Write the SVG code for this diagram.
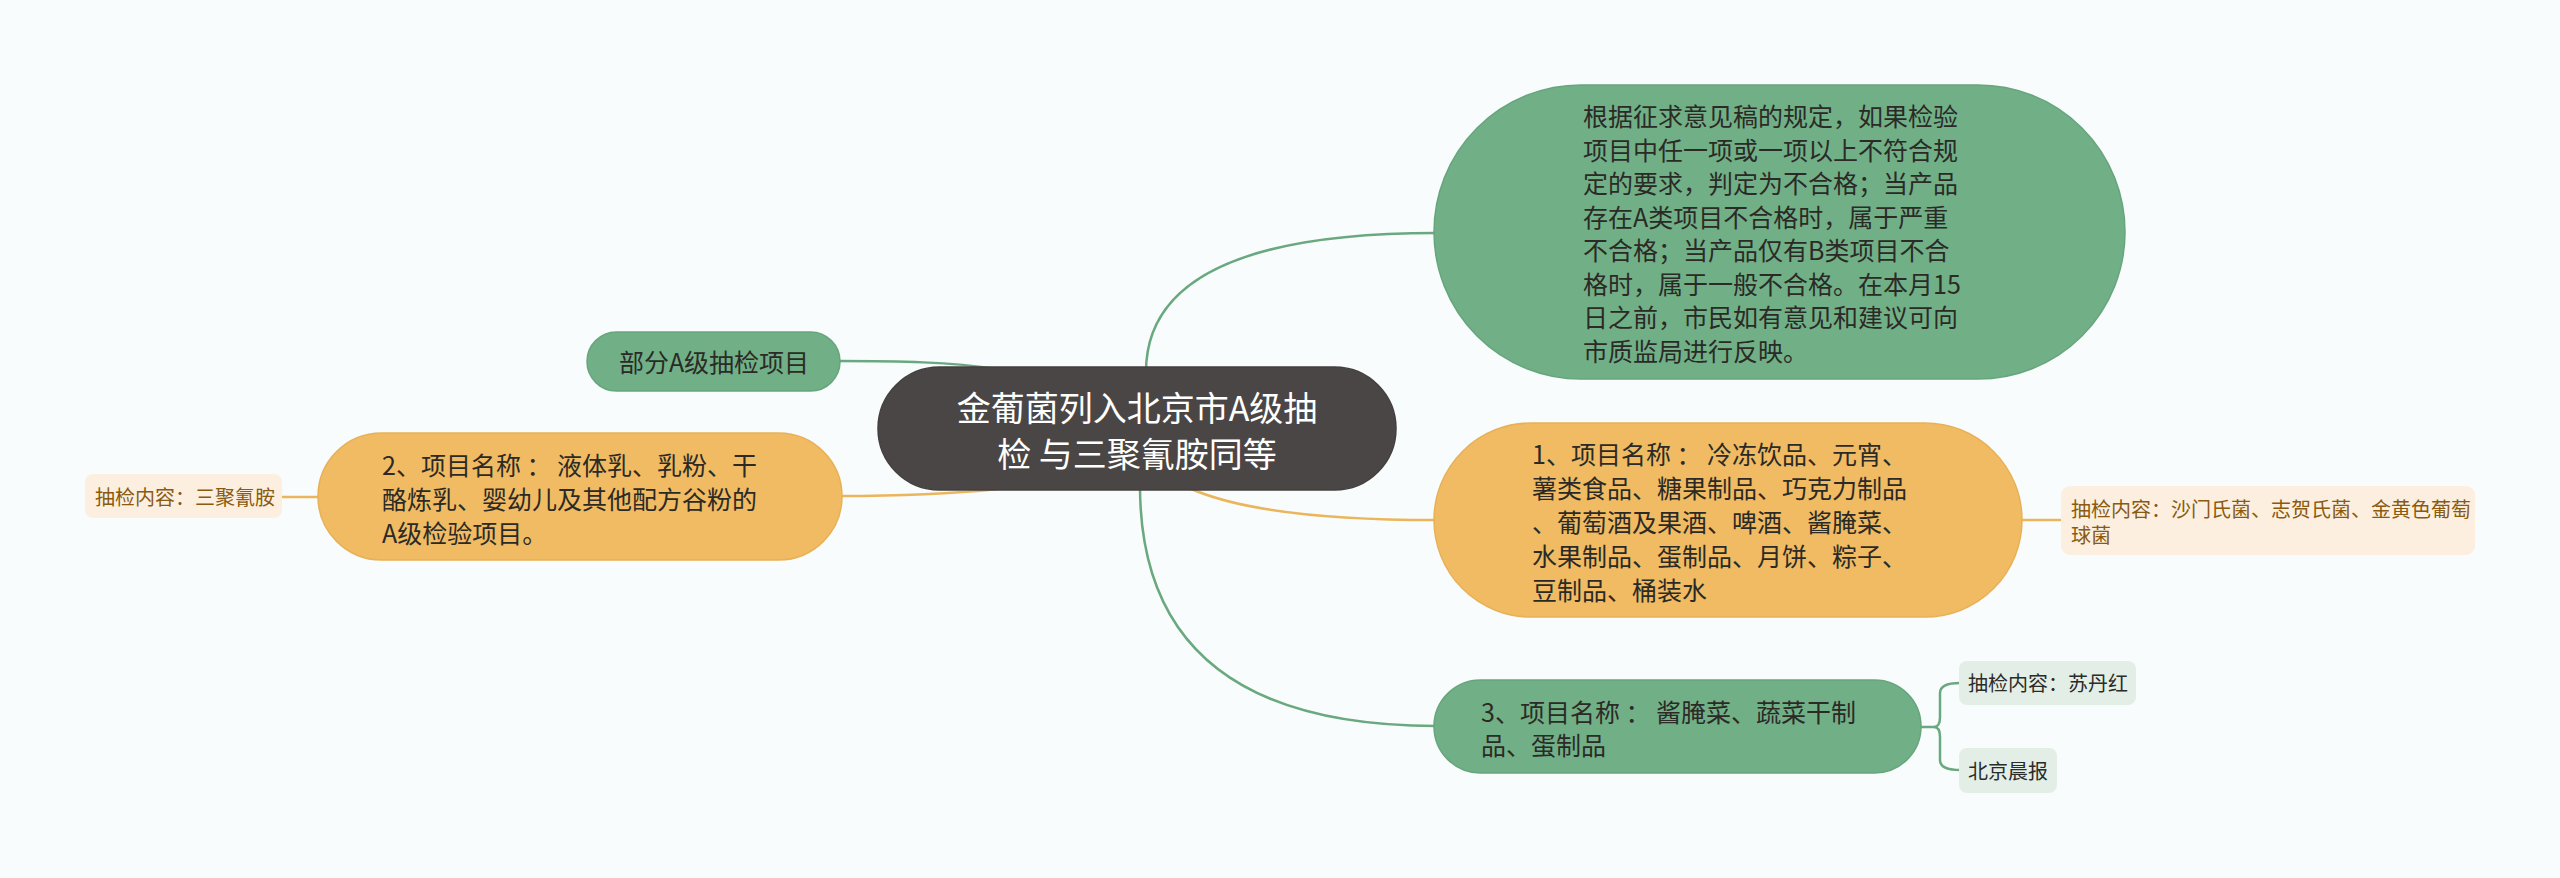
<svg xmlns="http://www.w3.org/2000/svg" width="2560" height="878" viewBox="0 0 2560 878">
<style>
text{font-family:"Noto Sans CJK SC","Noto Sans",sans-serif;dominant-baseline:central}
.t25{font-size:25px;fill:#2b2a26}
.t20{font-size:20px}
.root{font-size:34px;fill:#ffffff;text-anchor:middle}
.gn{fill:#71b087;stroke:#67a57c;stroke-width:1.5}
.on{fill:#f0bb62;stroke:#e8b157;stroke-width:1.5}
.gl{fill:#e3efe6}
.ol{fill:#fcefdf}
.gc{fill:none;stroke:#6aa87f;stroke-width:2.5}
.oc{fill:none;stroke:#ebb55c;stroke-width:2.5}
.lt{fill:#2b2b2b}
.lo{fill:#8a5a10}
</style>
<rect x="0" y="0" width="2560" height="878" fill="#f8fcfc"/>
<g id="connectors">
<path class="gc" d="M1146,372 Q1146,233 1436,233"/>
<path class="oc" d="M1189,488 Q1260,520 1436,520"/>
<path class="gc" d="M1140,486 Q1140,726 1436,726"/>
<path class="gc" d="M998,369 C950,362 900,361 838,361"/>
<path class="oc" d="M998,489 C950,494 900,496 840,496"/>
<path class="oc" d="M280,497 H320"/>
<path class="oc" d="M2020,520 H2062" stroke-width="3"/>
<path class="gc" stroke-width="3" d="M1919,727 H1934 Q1940,727 1940,717 V693 Q1940,683 1960,683"/>
<path class="gc" stroke-width="3" d="M1934,727 Q1940,727 1940,737 V760 Q1940,770 1960,770"/>
</g>
<g id="root">
<rect x="878" y="367" width="518" height="123" rx="61.5" fill="#4b4646" stroke="#443f3f" stroke-width="1.5"/>
<text class="root" x="1137" y="406">金葡菌列入北京市A级抽</text>
<text class="root" x="1137" y="452">检 与三聚氰胺同等</text>
</g>
<g id="node-top">
<rect class="gn" x="1434" y="85" width="691" height="294" rx="147"/>
<text class="t25" x="1583" y="115">根据征求意见稿的规定，如果检验</text>
<text class="t25" x="1583" y="148.5">项目中任一项或一项以上不符合规</text>
<text class="t25" x="1583" y="182">定的要求，判定为不合格；当产品</text>
<text class="t25" x="1583" y="215.5">存在A类项目不合格时，属于严重</text>
<text class="t25" x="1583" y="249">不合格；当产品仅有B类项目不合</text>
<text class="t25" x="1583" y="282.5">格时，属于一般不合格。在本月15</text>
<text class="t25" x="1583" y="316">日之前，市民如有意见和建议可向</text>
<text class="t25" x="1583" y="349.5">市质监局进行反映。</text>
</g>
<g id="node-1">
<rect class="on" x="1434" y="423" width="588" height="194" rx="97"/>
<text class="t25" x="1532" y="453">1、项目名称 ： 冷冻饮品、元宵、</text>
<text class="t25" x="1532" y="487">薯类食品、糖果制品、巧克力制品</text>
<text class="t25" x="1532" y="521">、葡萄酒及果酒、啤酒、酱腌菜、</text>
<text class="t25" x="1532" y="555">水果制品、蛋制品、月饼、粽子、</text>
<text class="t25" x="1532" y="589">豆制品、桶装水</text>
</g>
<g id="leaf-1">
<rect class="ol" x="2061" y="486" width="414" height="69" rx="9"/>
<text class="t20 lo" x="2071" y="508">抽检内容：沙门氏菌、志贺氏菌、金黄色葡萄</text>
<text class="t20 lo" x="2071" y="534">球菌</text>
</g>
<g id="node-3">
<rect class="gn" x="1434" y="680" width="487" height="93" rx="46.5"/>
<text class="t25" x="1481" y="711">3、项目名称 ： 酱腌菜、蔬菜干制</text>
<text class="t25" x="1481" y="744">品、蛋制品</text>
</g>
<g id="leaf-3a">
<rect class="gl" x="1959" y="661" width="177" height="44" rx="8"/>
<text class="t20 lt" x="1968" y="682">抽检内容：苏丹红</text>
</g>
<g id="leaf-3b">
<rect class="gl" x="1959" y="748" width="98" height="45" rx="8"/>
<text class="t20 lt" x="1968" y="770">北京晨报</text>
</g>
<g id="node-partA">
<rect class="gn" x="587" y="332" width="253" height="59" rx="29.5"/>
<text class="t25" x="714" y="361" text-anchor="middle">部分A级抽检项目</text>
</g>
<g id="node-2">
<rect class="on" x="318" y="433" width="524" height="127" rx="63.5"/>
<text class="t25" x="382" y="464">2、项目名称 ： 液体乳、乳粉、干</text>
<text class="t25" x="382" y="498">酪炼乳、婴幼儿及其他配方谷粉的</text>
<text class="t25" x="382" y="532">A级检验项目。</text>
</g>
<g id="leaf-2">
<rect class="ol" x="85" y="474" width="197" height="44" rx="8"/>
<text class="t20 lo" x="95" y="496">抽检内容：三聚氰胺</text>
</g>
</svg>
